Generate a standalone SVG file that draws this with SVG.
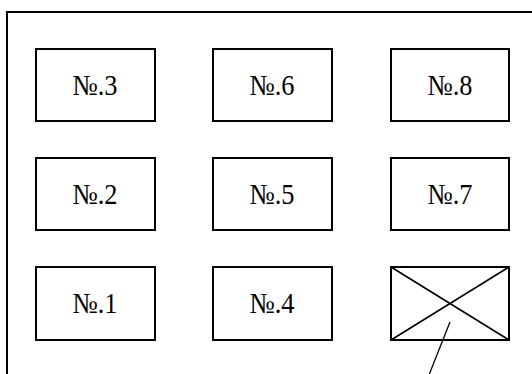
<svg xmlns="http://www.w3.org/2000/svg" width="532" height="374" viewBox="0 0 532 374">
<style>
.frame{fill:none;stroke:#000;stroke-width:2}
.box{fill:#fff;stroke:#000;stroke-width:2}
.lbl{font-family:"Liberation Serif","Noto Sans CJK JP",serif;font-size:29px;fill:#000;text-anchor:middle}
.x{stroke:#000;stroke-width:1.6;fill:none}
.lead{stroke:#000;stroke-width:1.3;fill:none}
</style>
<rect width="532" height="374" fill="#fff"/>
<path class="frame" d="M7 380 V12 H540"/>
<g id="n3"><rect class="box" x="36" y="49" width="119" height="72"/><text class="lbl" x="95" y="95" textLength="45" lengthAdjust="spacingAndGlyphs">№.3</text></g>
<g id="n6"><rect class="box" x="213" y="49" width="119" height="72"/><text class="lbl" x="272" y="95" textLength="45" lengthAdjust="spacingAndGlyphs">№.6</text></g>
<g id="n8"><rect class="box" x="391" y="49" width="118" height="72"/><text class="lbl" x="450" y="95" textLength="45" lengthAdjust="spacingAndGlyphs">№.8</text></g>
<g id="n2"><rect class="box" x="36" y="158" width="119" height="72"/><text class="lbl" x="95" y="204" textLength="45" lengthAdjust="spacingAndGlyphs">№.2</text></g>
<g id="n5"><rect class="box" x="213" y="158" width="119" height="72"/><text class="lbl" x="272" y="204" textLength="45" lengthAdjust="spacingAndGlyphs">№.5</text></g>
<g id="n7"><rect class="box" x="391" y="158" width="118" height="72"/><text class="lbl" x="450" y="204" textLength="45" lengthAdjust="spacingAndGlyphs">№.7</text></g>
<g id="n1"><rect class="box" x="36" y="267" width="119" height="73"/><text class="lbl" x="95" y="313" textLength="45" lengthAdjust="spacingAndGlyphs">№.1</text></g>
<g id="n4"><rect class="box" x="213" y="267" width="119" height="73"/><text class="lbl" x="272" y="313" textLength="45" lengthAdjust="spacingAndGlyphs">№.4</text></g>
<g id="blank"><rect class="box" x="391" y="267" width="118" height="73"/><path class="x" d="M391 267 L509 340 M509 267 L391 340"/></g>
<g id="connectors"><path class="lead" d="M450 322 L427 380"/></g>
</svg>
